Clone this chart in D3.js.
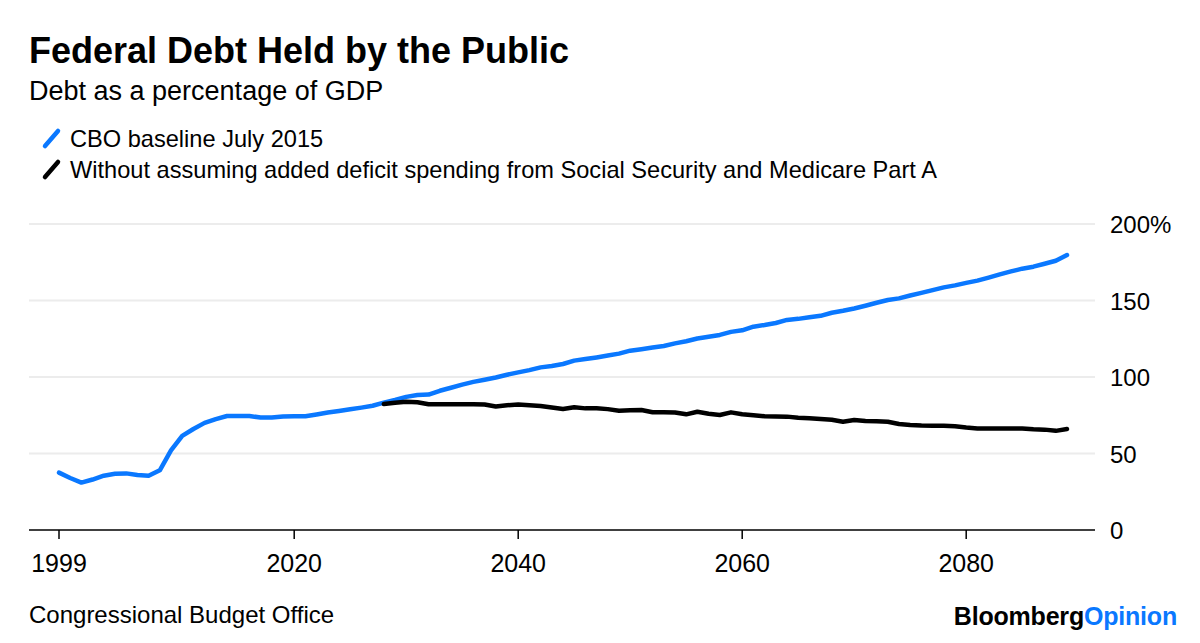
<!DOCTYPE html>
<html>
<head>
<meta charset="utf-8">
<script src="https://cdn.jsdelivr.net/npm/d3@7"></script>
<style>
  html, body { margin: 0; padding: 0; background: #fff; }
  svg { display: block; font-family: "Liberation Sans", Arial, Helvetica, sans-serif; }
</style>
</head>
<body>
<svg id="chart" width="1200" height="643"></svg>
<script>
// ---- Data ----
const baselineYears = d3.range(1999, 2090);
const baselineValues = [
  37.5, 34, 31, 33, 35.5, 36.8, 37, 36, 35.5, 39,
  52, 61.5, 66, 70, 72.5, 74.5, 74.5, 74.5, 73.5, 73.5,
  74.2, 74.3, 74.3, 75.5, 76.8, 77.8, 78.9, 80, 81.2, 83.2,
  85, 87, 88.2, 88.5, 91, 93, 95, 96.8, 98.2, 99.7,
  101.5, 103, 104.5, 106.3, 107.2, 108.5, 110.7, 111.7, 112.8, 114,
  115.3, 117.2, 118.2, 119.3, 120.3, 122, 123.4, 125.2, 126.3, 127.5,
  129.5, 130.5, 132.9, 134, 135.3, 137.3, 138, 139, 140, 142,
  143.3, 144.8, 146.6, 148.5, 150.3, 151.4, 153.3, 155, 156.8, 158.6,
  159.9, 161.5, 163, 165, 167.1, 169, 170.8, 172.1, 174, 176,
  179.7
];
const altYears = d3.range(2028, 2090);
const altValues = [
  82.3, 83.2, 83.8, 83.5, 82.2, 82.2, 82.2, 82.2, 82.2, 82,
  80.7, 81.5, 82, 81.5, 81, 80, 79.1, 80.2, 79.5, 79.5,
  79, 78, 78.2, 78.4, 77, 76.9, 76.8, 75.6, 77.3, 76,
  75.2, 76.9, 75.6, 75, 74.3, 74.2, 74.1, 73.4, 73, 72.6,
  72.1, 70.8, 71.9, 71.2, 71, 70.8, 69.3, 68.7, 68.3, 68.2,
  68.2, 67.8, 67, 66.4, 66.4, 66.4, 66.4, 66.4, 65.8, 65.6,
  64.8, 66
];
const xTicks = [1999, 2020, 2040, 2060, 2080];
const yTicks = [0, 50, 100, 150, 200];
const seriesNames = ["CBO baseline July 2015", "Without assuming added deficit spending from Social Security and Medicare Part A"];
const seriesColors = ["#0a78ff", "#000000"];

// ---- Layout ----
const svg = d3.select("#chart");
const x = d3.scaleLinear().domain([1999, 2089]).range([59, 1067]);
const y = d3.scaleLinear().domain([0, 200]).range([530, 224]);
const plotLeft = 29, plotRight = 1095;

// Title & subtitle
svg.append("text").attr("x", 29).attr("y", 63)
  .attr("font-size", 36).attr("font-weight", "bold").attr("fill", "#000")
  .text("Federal Debt Held by the Public");
svg.append("text").attr("x", 29).attr("y", 100)
  .attr("font-size", 27).attr("fill", "#000")
  .text("Debt as a percentage of GDP");

// Legend
const legend = svg.append("g");
seriesNames.forEach((name, i) => {
  const by = 147 + i * 31;
  legend.append("line")
    .attr("x1", 45).attr("y1", by - 1).attr("x2", 58).attr("y2", by - 16)
    .attr("stroke", seriesColors[i]).attr("stroke-width", 4.5).attr("stroke-linecap", "round");
  legend.append("text").attr("x", 70).attr("y", by)
    .attr("font-size", 23.6).attr("fill", "#000").text(name);
});

// Gridlines
svg.append("g").selectAll("line").data(yTicks.filter(d => d > 0)).join("line")
  .attr("x1", plotLeft).attr("x2", plotRight)
  .attr("y1", d => y(d)).attr("y2", d => y(d))
  .attr("stroke", "#ececec").attr("stroke-width", 2);

// Y labels
svg.append("g").selectAll("text").data(yTicks).join("text")
  .attr("x", 1110).attr("y", d => y(d) + 9)
  .attr("font-size", 24).attr("fill", "#000")
  .text(d => d === 200 ? d + "%" : d);

// X axis
const xAxis = svg.append("g").attr("transform", `translate(0,${y(0)})`);
xAxis.append("line").attr("x1", plotLeft).attr("x2", plotRight)
  .attr("stroke", "#000").attr("stroke-width", 1.5);
xAxis.selectAll("line.tick").data(xTicks).join("line").attr("class", "tick")
  .attr("x1", d => x(d)).attr("x2", d => x(d)).attr("y1", 0).attr("y2", 9)
  .attr("stroke", "#000").attr("stroke-width", 1.5);
xAxis.selectAll("text").data(xTicks).join("text")
  .attr("x", d => x(d)).attr("y", 42).attr("text-anchor", "middle")
  .attr("font-size", 25).attr("fill", "#000").text(d => d);

// Lines
const line = d3.line().x(d => x(d[0])).y(d => y(d[1])).curve(d3.curveLinear);
svg.append("path").datum(baselineYears.map((yr, i) => [yr, baselineValues[i]]))
  .attr("d", line).attr("fill", "none").attr("stroke", seriesColors[0])
  .attr("stroke-width", 4.5).attr("stroke-linejoin", "round").attr("stroke-linecap", "round");
svg.append("path").datum(altYears.map((yr, i) => [yr, altValues[i]]))
  .attr("d", line).attr("fill", "none").attr("stroke", seriesColors[1])
  .attr("stroke-width", 4.5).attr("stroke-linejoin", "round").attr("stroke-linecap", "round");

// Footer
svg.append("text").attr("x", 29).attr("y", 623)
  .attr("font-size", 24).attr("fill", "#000").text("Congressional Budget Office");
const brand = svg.append("text").attr("x", 1177).attr("y", 625).attr("text-anchor", "end")
  .attr("font-size", 25).attr("font-weight", "bold").attr("letter-spacing", -0.2);
brand.append("tspan").attr("fill", "#000").text("Bloomberg");
brand.append("tspan").attr("fill", "#0a78ff").text("Opinion");
</script>
</body>
</html>
